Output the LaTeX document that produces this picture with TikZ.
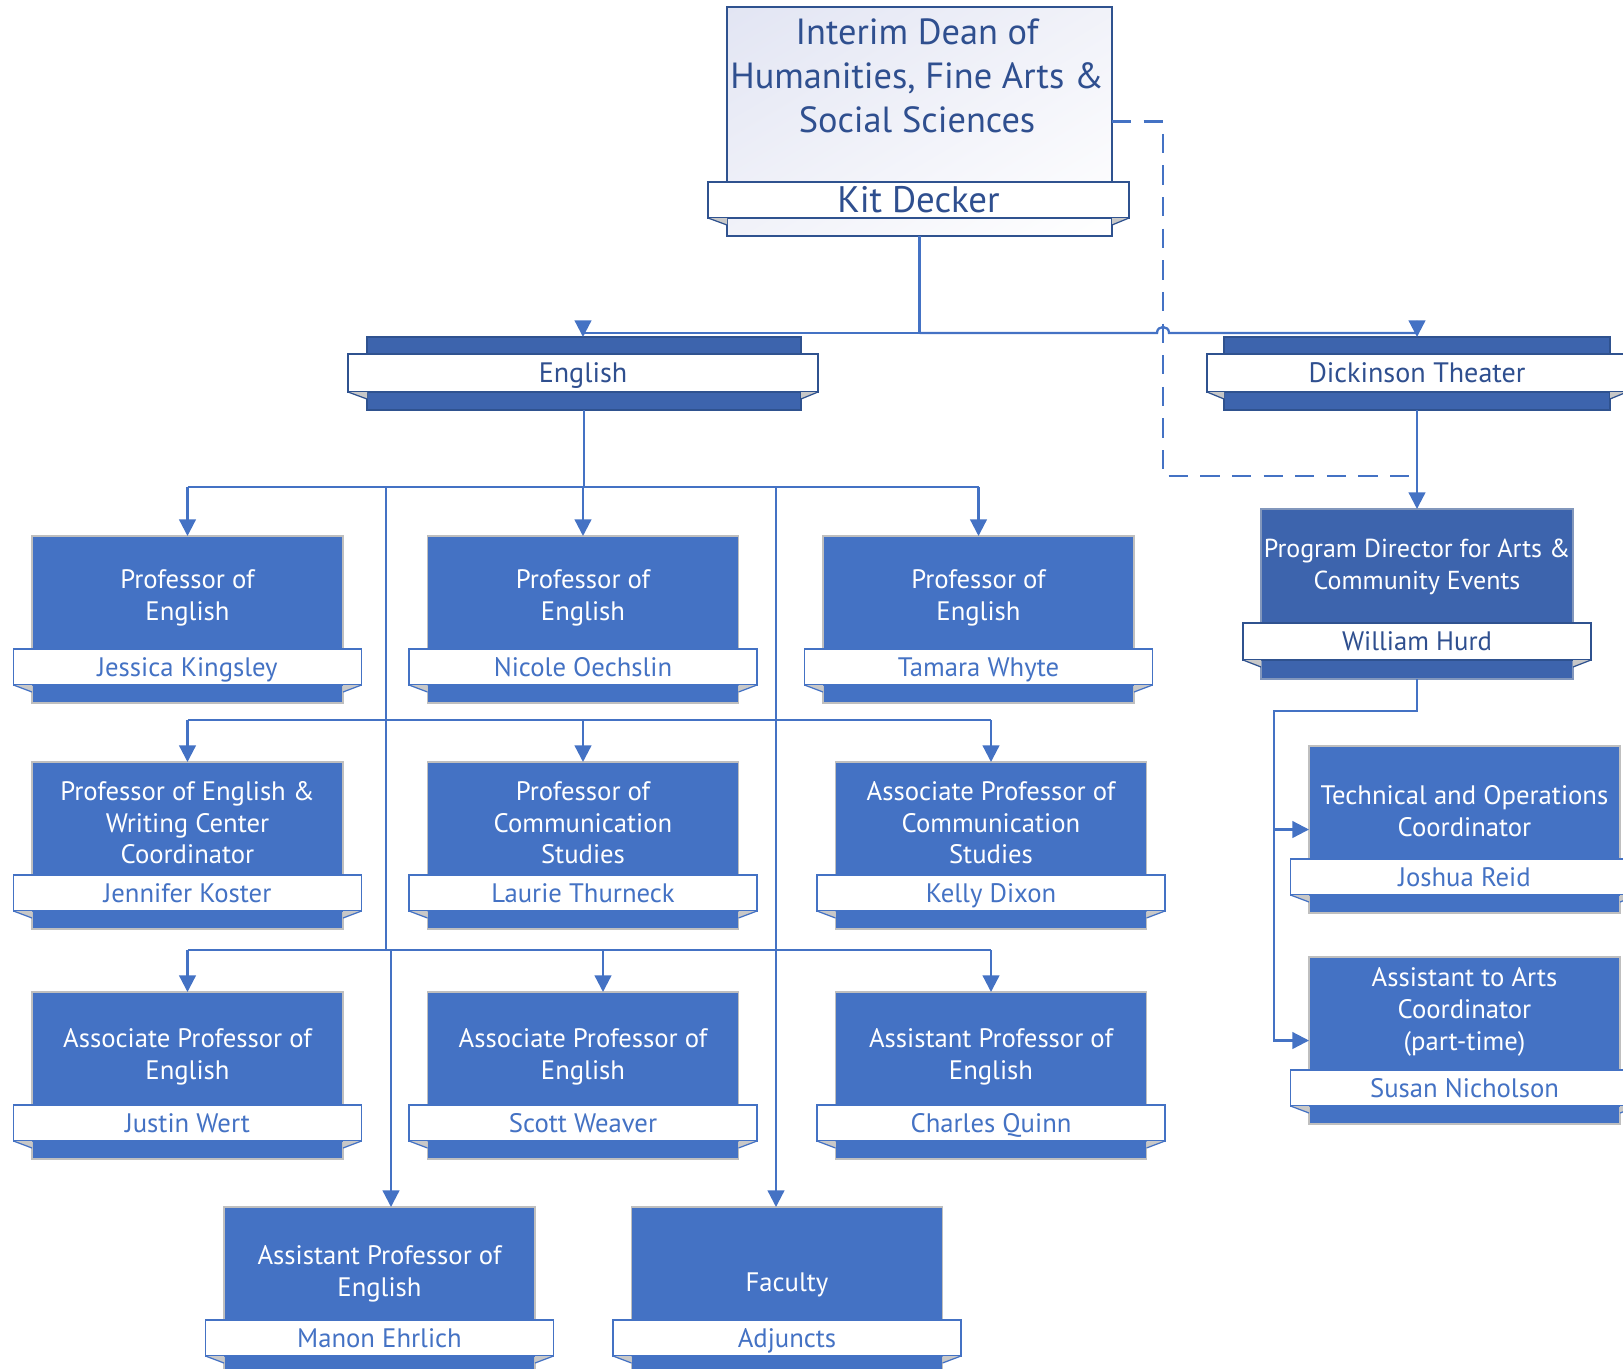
\documentclass[tikz,border=0pt]{standalone}
\usepackage{fontspec}
\setmainfont{PT Sans}
\usetikzlibrary{arrows.meta,calc,shadings}
\definecolor{accent}{HTML}{4472C4}
\definecolor{deepfill}{HTML}{3D64AD}
\definecolor{navy}{HTML}{2F528F}
\definecolor{navytext}{HTML}{2F4F8F}
\definecolor{foldgrey}{HTML}{C8C8C8}
\definecolor{boxedge}{HTML}{BFBFBF}
\definecolor{lav}{HTML}{E2E5F3}
\definecolor{lavb}{HTML}{F1F2F9}

\tikzset{
 conn/.style={accent, line width=1.3pt},
 arr/.style={conn, -{Triangle[width=9.5pt,length=9.5pt]}},
 dashconn/.style={conn, dash pattern=on 11pt off 7pt},
 rbox/.style={draw=boxedge, line width=0.6pt, fill=accent, minimum width=311*0.02cm, minimum height=167*0.02cm, inner sep=0pt, outer sep=0pt, anchor=north},
 rband/.style={draw=accent, line width=0.7pt, fill=white, minimum width=348*0.02cm, minimum height=36*0.02cm, inner sep=0pt, outer sep=0pt, anchor=north, text=accent, text height=10.6pt, text depth=0pt, font=\fontsize{15.2}{18}\selectfont},
 rtitle/.style={text=white, align=center, font=\fontsize{15.2}{18}\selectfont, inner sep=0pt},
 topbox/.style={draw=navy, line width=0.9pt, fill=deepfill, inner sep=0pt, outer sep=0pt},
 topband/.style={draw=navy, line width=0.9pt, fill=white, inner sep=0pt, outer sep=0pt, text=navytext, text height=11.2pt, text depth=0pt, font=\fontsize{16}{19}\selectfont},
}

% fold triangles under both ends of a band
\newcommand\folds[3]{% box, band, colour of the slanted edge
  \fill[foldgrey] (#2.south west) -- (#1.west |- #2.south) -- ($(#1.west |- #2.south)+(0,7)$) -- cycle;
  \draw[#3, line width=0.7pt] (#2.south west) -- ($(#1.west |- #2.south)+(0,7)$);
  \fill[foldgrey] (#2.south east) -- (#1.east |- #2.south) -- ($(#1.east |- #2.south)+(0,7)$) -- cycle;
  \draw[#3, line width=0.7pt] (#2.south east) -- ($(#1.east |- #2.south)+(0,7)$);
}
% a position box: name, centre x, top y, title y offset, title, person
\newcommand\rowbox[6]{%
  \node[rbox] (#1) at (#2,#3) {};
  \node[rband] (#1-b) at (#2,#3+113) {#6};
  \folds{#1}{#1-b}{accent}
  \node[rtitle] (#1-t) at (#2,#3+#4) {#5};
}

\begin{document}
\begin{tikzpicture}[x=0.02cm, y=-0.02cm]
\useasboundingbox (0,0) rectangle (1623,1369);

% ---- Dean
\node[draw=navy, line width=1pt, minimum width=385*0.02cm, minimum height=229*0.02cm, anchor=north, inner sep=0pt, outer sep=0pt,
      upper left=lav, upper right=lavb, lower left=lavb, lower right=white] (dean) at (919.5,7) {};
\node[text=navytext, align=center, font=\fontsize{20.7}{25}\selectfont, inner sep=0pt] (dean-t) at (917,76)
  {Interim Dean of\\Humanities, Fine Arts \&\\Social Sciences};
\node[draw=navy, line width=1pt, fill=white, minimum width=421*0.02cm, minimum height=36*0.02cm, anchor=north, inner sep=0pt, outer sep=0pt,
      text=navytext, text height=14.7pt, text depth=0pt, font=\fontsize{21}{24}\selectfont] (kit) at (918.5,182) {Kit Decker};
\folds{dean}{kit}{navy}

% ---- English
\node[topbox, minimum width=434*0.02cm, minimum height=73*0.02cm] (eng) at (584,373.5) {};
\node[topband, minimum width=470*0.02cm, minimum height=38*0.02cm] (eng-b) at (583,373) {English};
\folds{eng}{eng-b}{navy}

% ---- Dickinson Theater
\node[topbox, minimum width=386*0.02cm, minimum height=73*0.02cm] (dick) at (1417,373.5) {};
\node[topband, minimum width=420*0.02cm, minimum height=38*0.02cm] (dick-b) at (1417,373) {Dickinson Theater};
\folds{dick}{dick-b}{navy}

% ---- Program Director
\node[topbox, draw=navy!60, line width=0.6pt, minimum width=312*0.02cm, minimum height=170*0.02cm, anchor=north] (pd) at (1417,509) {};
\node[topband, minimum width=348*0.02cm, minimum height=37*0.02cm, anchor=north, text height=10.6pt, font=\fontsize{15.2}{18}\selectfont] (pd-b) at (1417,623) {William Hurd};
\folds{pd}{pd-b}{navy}
\node[rtitle, font=\fontsize{14.8}{18}\selectfont] (pd-t) at (1417,567) {Program Director for Arts \&\\Community Events};

% ---- Dickinson staff
\rowbox{tech}{1464.5}{746}{65}{Technical and Operations\\Coordinator}{Joshua Reid}
\rowbox{asst}{1464.5}{957}{55}{Assistant to Arts\\Coordinator\\(part-time)}{Susan Nicholson}

% ---- English faculty
\rowbox{jk}{187.5}{536}{62}{Professor of\\English}{Jessica Kingsley}
\rowbox{no}{583}{536}{62}{Professor of\\English}{Nicole Oechslin}
\rowbox{tw}{978.5}{536}{62}{Professor of\\English}{Tamara Whyte}
\rowbox{jko}{187.5}{762}{61}{Professor of English \&\\Writing Center\\Coordinator}{Jennifer Koster}
\rowbox{lt}{583}{762}{61}{Professor of\\Communication\\Studies}{Laurie Thurneck}
\rowbox{kd}{991}{762}{61}{Associate Professor of\\Communication\\Studies}{Kelly Dixon}
\rowbox{jw}{187.5}{992}{65}{Associate Professor of\\English}{Justin Wert}
\rowbox{sw}{583}{992}{65}{Associate Professor of\\English}{Scott Weaver}
\rowbox{cq}{991}{992}{65}{Assistant Professor of\\English}{Charles Quinn}
\rowbox{me}{379.5}{1207}{67}{Assistant Professor of\\English}{Manon Ehrlich}
\rowbox{fac}{787}{1207}{78}{Faculty}{Adjuncts}

% ---- connectors
\coordinate (bus0) at (0,333);
\coordinate (dsh) at (1163,476);
\draw[dashconn] (dean.east) -| (dsh) -- (pd.north |- dsh);
\draw[arr] (dean.south) -- (dean.south |- bus0) -| (eng-b.north |- eng.north);
\draw[arr] (dean.south |- bus0) -- (1157,333) .. controls (1157,325) and (1169,325) .. (1169,333) -| (dick.north);
\draw[arr] (dick.south) -- (pd.north);

\coordinate (ptrunk) at (1274,711);
\draw[arr] (pd.south) |- (ptrunk) |- (tech.west);
\draw[arr] (ptrunk) |- (asst.west);

\coordinate (r1) at (0,487);
\coordinate (r2) at (0,720);
\coordinate (r3) at (0,950);
\draw[conn] (eng.south) -- (eng.south |- r1);
\draw[conn] (jk.north |- r1) -- (tw.north |- r1);
\draw[arr] (jk.north |- r1) -- (jk.north);
\draw[arr] (no.north |- r1) -- (no.north);
\draw[arr] (tw.north |- r1) -- (tw.north);

\coordinate (tA) at (386,487);
\coordinate (tA2) at (391,950);
\coordinate (tB) at (776,487);
\draw[conn] (tA) -- (tA |- r3) -- (tA2);
\draw[arr] (tA2) -- (tA2 |- me.north);
\draw[arr] (tB) -- (tB |- fac.north);

\draw[conn] (jko.north |- r2) -- (kd.north |- r2);
\draw[arr] (jko.north |- r2) -- (jko.north);
\draw[arr] (lt.north |- r2) -- (lt.north);
\draw[arr] (kd.north |- r2) -- (kd.north);

\coordinate (sA) at (603,950);
\draw[conn] (jw.north |- r3) -- (cq.north |- r3);
\draw[arr] (jw.north |- r3) -- (jw.north);
\draw[arr] (sA) -- (sA |- sw.north);
\draw[arr] (cq.north |- r3) -- (cq.north);
\end{tikzpicture}
\end{document}
